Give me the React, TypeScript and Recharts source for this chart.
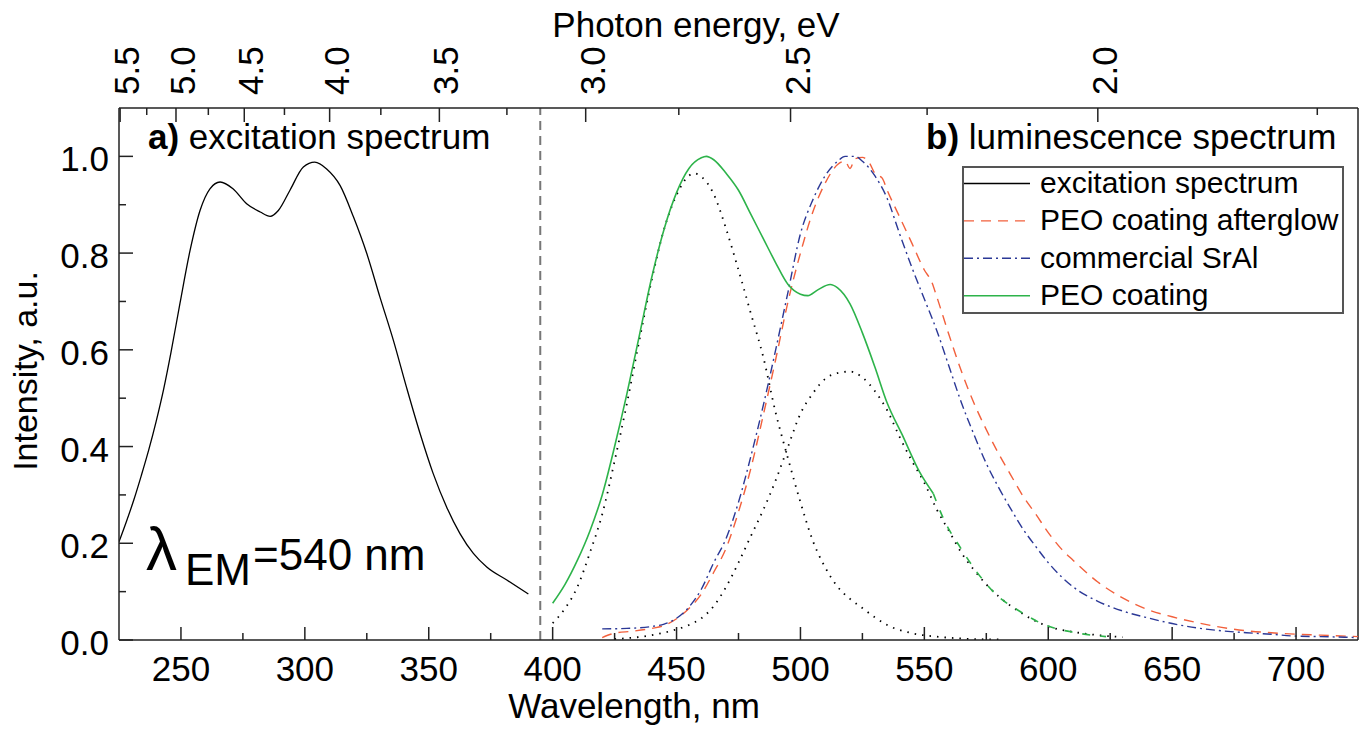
import React from "react";
import { LineChart, Line, XAxis, YAxis, ReferenceLine } from "recharts";

// wavelengths (nm) and normalised intensities
const EXC_NM = [225, 228, 231, 234, 237, 240, 243, 246, 249.6, 253.7, 257.7, 261.7, 265.8, 271, 276.5, 282, 286, 289.3, 294, 299.4, 304, 308.8, 314.2, 319.6, 325, 330.3, 335.7, 341, 346.5, 351.8, 357.2, 362.6, 368, 373.4, 381.5, 390.2];
const EXC_I = [0.203, 0.245, 0.29, 0.34, 0.393, 0.452, 0.518, 0.595, 0.696, 0.806, 0.888, 0.933, 0.947, 0.933, 0.902, 0.885, 0.876, 0.888, 0.93, 0.978, 0.988, 0.974, 0.94, 0.875, 0.799, 0.709, 0.62, 0.523, 0.427, 0.344, 0.275, 0.22, 0.179, 0.151, 0.124, 0.095];

const AFTER_NM = [420, 425, 432, 440, 445, 450, 455, 460, 465, 470, 475, 480, 485, 490, 495, 500, 505, 510, 515, 518, 520, 522, 525, 528, 530, 533, 535, 540, 545, 550, 553, 555, 560, 565, 570, 575, 580, 585, 590, 595, 600, 605, 610, 620, 630, 640, 650, 660, 670, 680, 690, 700, 710, 725];
const AFTER_I = [0.005, 0.014, 0.018, 0.024, 0.03, 0.044, 0.065, 0.095, 0.14, 0.19, 0.265, 0.355, 0.465, 0.58, 0.7, 0.8, 0.885, 0.945, 0.983, 0.99, 0.975, 0.995, 0.998, 0.985, 0.965, 0.955, 0.93, 0.875, 0.82, 0.765, 0.74, 0.71, 0.63, 0.555, 0.49, 0.435, 0.385, 0.34, 0.296, 0.26, 0.222, 0.19, 0.165, 0.12, 0.087, 0.063, 0.048, 0.036, 0.026, 0.019, 0.015, 0.012, 0.01, 0.007];

const SRAL_NM = [420, 430, 440, 445, 450, 455, 460, 465, 470, 475, 480, 485, 490, 495, 500, 505, 510, 515, 518, 522, 525, 530, 535, 540, 545, 550, 555, 560, 565, 570, 575, 580, 585, 590, 595, 600, 610, 620, 630, 640, 650, 660, 670, 680, 690, 700, 710, 725];
const SRAL_I = [0.023, 0.024, 0.028, 0.033, 0.045, 0.068, 0.105, 0.16, 0.21, 0.285, 0.38, 0.485, 0.6, 0.72, 0.84, 0.91, 0.96, 0.99, 1.0, 1.0, 0.99, 0.96, 0.913, 0.84, 0.77, 0.705, 0.64, 0.565, 0.49, 0.425, 0.365, 0.315, 0.27, 0.228, 0.193, 0.16, 0.11, 0.08, 0.06, 0.046, 0.034, 0.025, 0.019, 0.015, 0.012, 0.008, 0.007, 0.005];

const PEO_NM = [400, 405, 410, 415, 420, 425, 430, 435, 440, 445, 450, 455, 460, 462, 465, 470, 475, 480, 485, 490, 495, 500, 503, 507, 512, 515, 520, 525, 530, 535, 541, 548, 553.6];
const PEO_I = [0.076, 0.115, 0.165, 0.225, 0.3, 0.4, 0.51, 0.63, 0.75, 0.85, 0.925, 0.975, 0.997, 1.0, 0.993, 0.965, 0.93, 0.88, 0.83, 0.78, 0.735, 0.715, 0.712, 0.724, 0.735, 0.728, 0.695, 0.635, 0.565, 0.49, 0.425, 0.348, 0.303];

const PEO_TAIL_NM = [553.6, 557.7, 564.8, 571.1, 579.2, 588.3, 598.7, 611.1, 623.3];
const PEO_TAIL_I = [0.303, 0.251, 0.189, 0.141, 0.093, 0.06, 0.031, 0.015, 0.007];

// gaussian components of the PEO coating band
const FIT1_NM = [400, 405, 410, 415, 420, 425, 430, 435, 440, 445, 450, 455, 457, 460, 465, 470, 475, 480, 485, 490, 495, 500, 505, 510, 515, 520, 525, 530, 535, 545, 555, 565, 580];
const FIT1_I = [0.035, 0.065, 0.11, 0.18, 0.26, 0.37, 0.49, 0.62, 0.745, 0.85, 0.92, 0.96, 0.965, 0.958, 0.922, 0.85, 0.765, 0.675, 0.585, 0.47, 0.375, 0.285, 0.205, 0.15, 0.11, 0.085, 0.066, 0.047, 0.031, 0.014, 0.007, 0.003, 0.001];

const FIT2_NM = [425, 440, 450, 455, 460, 465, 470, 475, 480, 485, 490, 495, 500, 505, 510, 515, 520, 525, 530, 535, 540, 545, 550, 555, 560, 565, 570, 575, 580, 585, 590, 595, 600, 610, 620, 630];
const FIT2_I = [0.002, 0.01, 0.022, 0.031, 0.045, 0.07, 0.11, 0.16, 0.215, 0.269, 0.33, 0.4, 0.468, 0.51, 0.54, 0.552, 0.555, 0.543, 0.515, 0.475, 0.42, 0.37, 0.325, 0.27, 0.225, 0.18, 0.145, 0.115, 0.09, 0.07, 0.053, 0.039, 0.028, 0.017, 0.01, 0.006];

const X_MAJOR = [250, 300, 350, 400, 450, 500, 550, 600, 650, 700];
const X_MINOR = [275, 325, 375, 425, 475, 525, 575, 625, 675];
const Y_MAJOR = [0, 0.2, 0.4, 0.6, 0.8, 1.0];
const Y_MINOR = [0.1, 0.3, 0.5, 0.7, 0.9];
const E_MAJOR = [5.5, 5.0, 4.5, 4.0, 3.5, 3.0, 2.5, 2.0];
const E_MINOR = [5.25, 4.75, 4.25, 3.75, 3.25, 2.75, 2.25, 1.75];
const HC = 1240; // eV*nm

const LEGEND = [
  { name: "excitation spectrum", color: "#000000", dash: undefined },
  { name: "PEO coating afterglow", color: "#f2603c", dash: "10 7" },
  { name: "commercial SrAl", color: "#2b3896", dash: "9 4 2 4" },
  { name: "PEO coating", color: "#2db34a", dash: undefined },
];

const FONT = "'Liberation Sans', Arial, sans-serif";
const AXIS = "#222";

const zip = (xs: number[], ys: number[]) => xs.map((x, i) => ({ x, y: ys[i] }));

const BottomTick = (props: any) => {
  const { x, y, payload } = props;
  const major = X_MAJOR.includes(payload.value);
  return (
    <g>
      <line x1={x} x2={x} y1={y} y2={y - (major ? 13 : 7)} stroke={AXIS} strokeWidth={1.5} />
      {major && (
        <text x={x} y={y + 41} textAnchor="middle" fontSize={35} fontFamily={FONT} fill="#000">
          {payload.value}
        </text>
      )}
    </g>
  );
};

const LeftTick = (props: any) => {
  const { x, y, payload } = props;
  const major = Y_MAJOR.some((v) => Math.abs(v - payload.value) < 1e-6);
  return (
    <g>
      <line x1={x} x2={x + (major ? 14 : 7)} y1={y} y2={y} stroke={AXIS} strokeWidth={1.5} />
      {major && (
        <text x={x - 10} y={y + 15} textAnchor="end" fontSize={35} fontFamily={FONT} fill="#000">
          {payload.value.toFixed(1)}
        </text>
      )}
    </g>
  );
};

const TopTick = (props: any) => {
  const { x, y, payload } = props;
  const energy = HC / payload.value;
  const major = E_MAJOR.some((e) => Math.abs(e - energy) < 1e-6);
  const tx = x + 19;
  const ty = y - 13;
  return (
    <g>
      <line x1={x} x2={x} y1={y} y2={y + (major ? 14 : 7)} stroke={AXIS} strokeWidth={1.5} />
      {major && (
        <text x={tx} y={ty} transform={`rotate(-90 ${tx} ${ty})`} textAnchor="start" fontSize={35} fontFamily={FONT} fill="#000">
          {energy.toFixed(1)}
        </text>
      )}
    </g>
  );
};

export default function App() {
  const topTicks = [...E_MAJOR, ...E_MINOR].map((e) => HC / e);
  return (
    <div style={{ position: "absolute", left: 0, top: 0, width: 1367, height: 729, background: "#fff" }}>
      <LineChart width={1367} height={729} margin={{ top: 48, right: 9, bottom: 29, left: 19 }}>
        <XAxis
          dataKey="x"
          type="number"
          domain={[225, 725]}
          allowDataOverflow
          ticks={[...X_MAJOR, ...X_MINOR]}
          interval={0}
          tickSize={0}
          tickMargin={0}
          tick={<BottomTick />}
          axisLine={{ stroke: AXIS, strokeWidth: 1.5 }}
          height={60}
        />
        <XAxis
          xAxisId="top"
          orientation="top"
          dataKey="x"
          type="number"
          domain={[225, 725]}
          allowDataOverflow
          ticks={topTicks}
          interval={0}
          tickSize={0}
          tickMargin={0}
          tick={<TopTick />}
          axisLine={{ stroke: AXIS, strokeWidth: 1.5 }}
          height={60}
        />
        <YAxis
          type="number"
          domain={[0, 1.1]}
          allowDataOverflow
          ticks={[...Y_MAJOR, ...Y_MINOR]}
          interval={0}
          tickSize={0}
          tickMargin={0}
          tick={<LeftTick />}
          axisLine={{ stroke: AXIS, strokeWidth: 1.5 }}
          width={100}
        />
        <ReferenceLine x={395} stroke="#777" strokeWidth={2} strokeDasharray="9 6" />
        <ReferenceLine x={725} stroke={AXIS} strokeWidth={1.5} />
        <Line data={zip(FIT1_NM, FIT1_I)} dataKey="y" type="monotone" stroke="#000" strokeWidth={1.8} strokeDasharray="1.5 6" dot={false} activeDot={false} isAnimationActive={false} />
        <Line data={zip(FIT2_NM, FIT2_I)} dataKey="y" type="monotone" stroke="#000" strokeWidth={1.8} strokeDasharray="1.5 6" dot={false} activeDot={false} isAnimationActive={false} />
        <Line data={zip(EXC_NM, EXC_I)} dataKey="y" type="monotone" stroke="#000" strokeWidth={1.3} dot={false} activeDot={false} isAnimationActive={false} />
        <Line data={zip(AFTER_NM, AFTER_I)} dataKey="y" type="monotone" stroke="#f2603c" strokeWidth={1.4} strokeDasharray="10 7" dot={false} activeDot={false} isAnimationActive={false} />
        <Line data={zip(SRAL_NM, SRAL_I)} dataKey="y" type="monotone" stroke="#2b3896" strokeWidth={1.4} strokeDasharray="9 4 2 4" dot={false} activeDot={false} isAnimationActive={false} />
        <Line data={zip(PEO_NM, PEO_I)} dataKey="y" type="monotone" stroke="#2db34a" strokeWidth={1.6} dot={false} activeDot={false} isAnimationActive={false} />
        <Line data={zip(PEO_TAIL_NM, PEO_TAIL_I)} dataKey="y" type="monotone" stroke="#2db34a" strokeWidth={1.6} strokeDasharray="8 10" dot={false} activeDot={false} isAnimationActive={false} />
      </LineChart>

      {/* titles, annotations and legend */}
      <svg width={1367} height={729} style={{ position: "absolute", left: 0, top: 0, pointerEvents: "none" }} fontFamily={FONT}>
        <text x={696} y={37} textAnchor="middle" fontSize={35}>Photon energy, eV</text>
        <text x={634} y={718} textAnchor="middle" fontSize={35}>Wavelength, nm</text>
        <text x={37} y={371} transform="rotate(-90 37 371)" textAnchor="middle" fontSize={34}>Intensity, a.u.</text>

        <text x={148} y={149} fontSize={35}>
          <tspan fontWeight="bold">a)</tspan> excitation spectrum
        </text>
        <text x={926} y={149} fontSize={35}>
          <tspan fontWeight="bold">b)</tspan> luminescence spectrum
        </text>

        <text x={146} y={570} fontSize={62}>λ</text>
        <text x={185} y={585} fontSize={44}>EM</text>
        <text x={253} y={570} fontSize={44}>=540 nm</text>

        <rect x={963} y={167} width={380} height={146} fill="#fff" stroke="#555" strokeWidth={2} />
        {LEGEND.map((item, i) => (
          <g key={item.name}>
            <line x1={964} x2={1030} y1={183.5 + i * 37.4} y2={183.5 + i * 37.4} stroke={item.color} strokeWidth={1.4} strokeDasharray={item.dash} />
            <text x={1040} y={193 + i * 37.4} fontSize={30}>{item.name}</text>
          </g>
        ))}
      </svg>
    </div>
  );
}
